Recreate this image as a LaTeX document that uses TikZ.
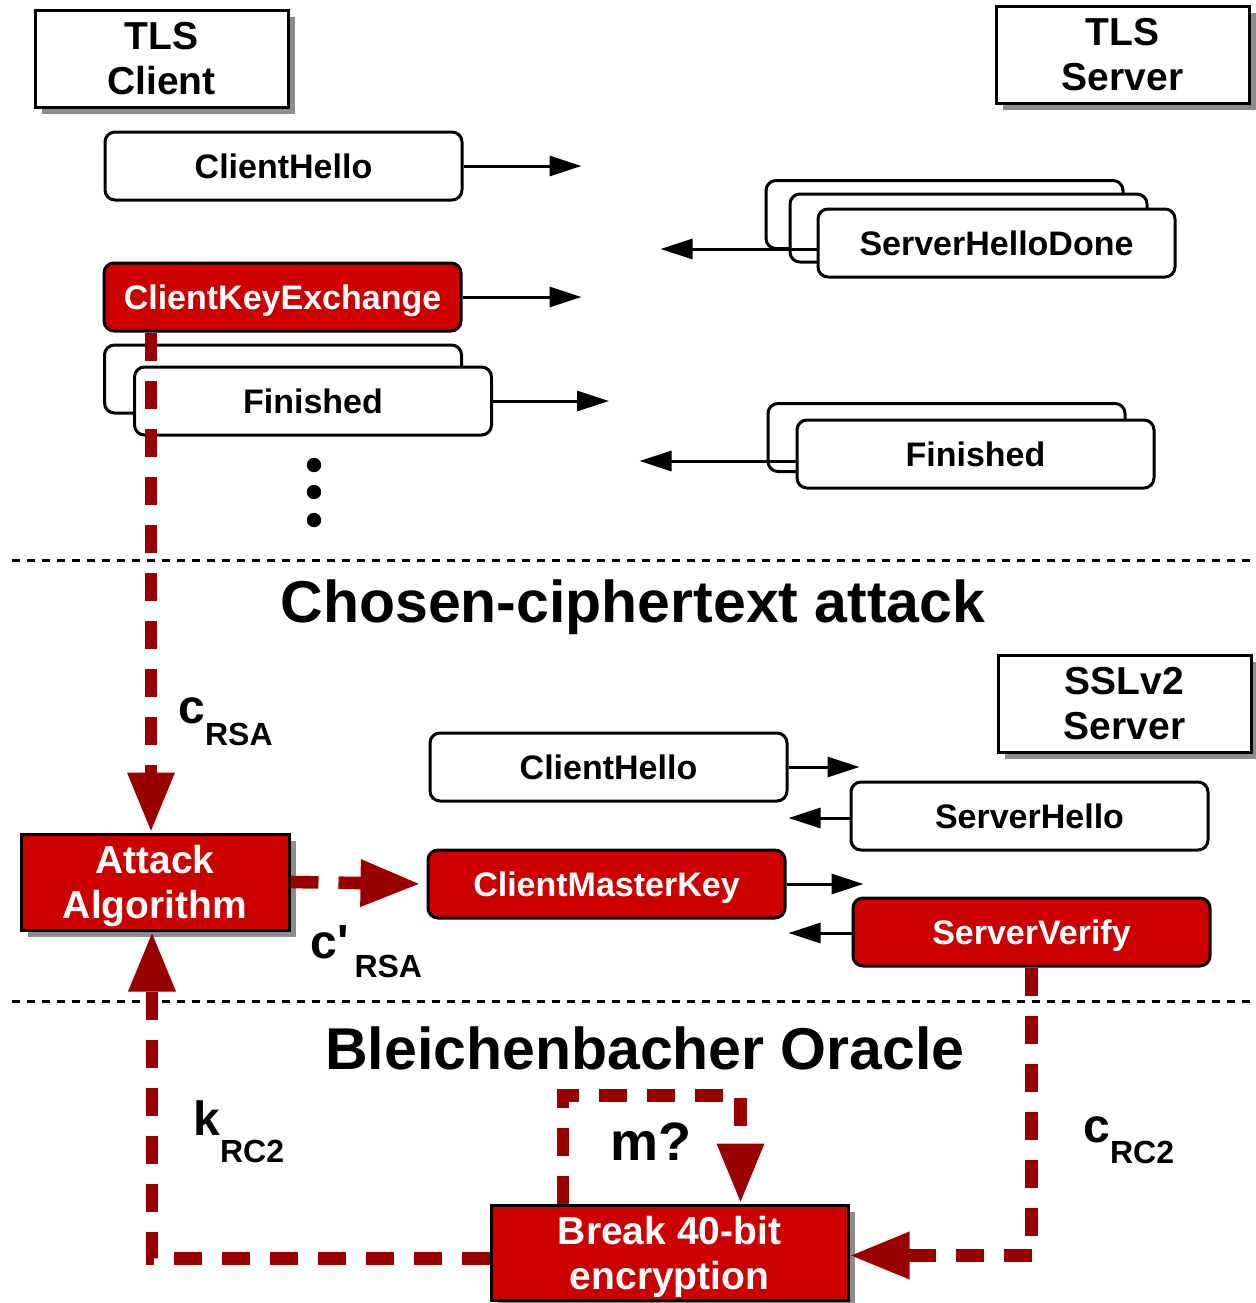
\documentclass[tikz,border=0pt]{standalone}
\usepackage{fontspec}
\setmainfont{Liberation Sans}
\usetikzlibrary{arrows.meta,calc,shadows}

\definecolor{tlsred}{HTML}{CC0000}
\definecolor{oraclered}{HTML}{990000}
\definecolor{shadowgray}{HTML}{8C8C8C}

\newcommand{\subtag}[3]{{\bfseries\fontsize{24}{24}\selectfont #1}\raisebox{#3}{\bfseries\fontsize{16}{16}\selectfont #2}}

\tikzset{
  msg/.style={draw, line width=1.5pt, rounded corners=5pt, fill=white,
    minimum width=178.5pt, minimum height=34pt, inner sep=0pt,
    text height=12.2pt, text depth=0pt,
    font=\fontsize{17}{20}\selectfont\bfseries},
  hotmsg/.style={msg, fill=tlsred, text=white},
  party/.style={draw, line width=1.5pt, fill=white, minimum width=126.5pt,
    minimum height=48.5pt, inner sep=0pt, align=center,
    font=\fontsize{19.5}{22.5}\selectfont\bfseries,
    drop shadow={shadow xshift=3.5pt, shadow yshift=-3.5pt, fill=shadowgray, opacity=1}},
  attackbox/.style={party, fill=tlsred, text=white, text depth=0pt,
    minimum width=134pt, minimum height=48pt},
  send/.style={line width=1.5pt, -{Triangle[length=16pt,width=10pt]}},
  leak/.style={draw=oraclered, line width=6.3pt, dash pattern=on 14pt off 10pt},
  bigtip/.style={-{Triangle[length=30pt,width=22pt]}},
  divider/.style={line width=1.5pt, dash pattern=on 4pt off 3.5pt},
  heading/.style={font=\fontsize{29.5}{32}\selectfont\bfseries},
  tag/.style={anchor=base west, inner sep=0pt}
}

\begin{document}
\begin{tikzpicture}[x=0.5pt, y=-0.5pt]
  \useasboundingbox (0,0) rectangle (1255,1303);

  % TLS handshake
  \node[party] (client) at (161.5,58.5) {TLS\\Client};
  \node[party] (server) at (1122.5,54.5) {TLS\\Server};

  \node[msg] (chello) at (283.5,166) {ClientHello};
  \foreach \x/\y in {944.5/214.5, 968.5/228}
    \node[msg] at (\x,\y) {};
  \node[msg] (shdone) at (996.5,243) {ServerHelloDone};
  \node[hotmsg] (ckex) at (282.5,297) {ClientKeyExchange};
  \node[msg] at (283,379) {};
  \node[msg] (cfin) at (313,401) {Finished};
  \node[msg] at (946.5,437.5) {};
  \node[msg] (sfin) at (975.5,454) {Finished};

  \draw[send] (chello.east) -- ++(118,0);
  \draw[send] ([yshift=-3pt]shdone.west) -- ++(-156,0);
  \draw[send] (ckex.east) -- ++(119,0);
  \draw[send] (cfin.east) -- ++(116,0);
  \draw[send] ([yshift=-3.5pt]sfin.west) -- ++(-156,0);

  \foreach \y in {465,492,520}
    \fill (314,\y) circle [radius=3.6pt];

  \draw[divider] (12,560) -- (1252,560);
  \node[heading] (cca) at (633,607) {Chosen-ciphertext attack};

  % SSLv2 side
  \node[party] (sslv2) at (1124.5,703.5) {SSLv2\\Server};
  \node[msg] (chello2) at (608.5,767) {ClientHello};
  \node[msg] (shello) at (1029.5,816) {ServerHello};
  \node[hotmsg] (cmkey) at (606.5,884) {ClientMasterKey};
  \node[hotmsg] (sverify) at (1031.5,932) {ServerVerify};

  \draw[send] (chello2.east) -- ++(71,0);
  \draw[send] ([yshift=-1pt]shello.west) -- ++(-61,0);
  \draw[send] (cmkey.east) -- ++(77,0);
  \draw[send] ([yshift=-0.5pt]sverify.west) -- ++(-63,0);

  \node[attackbox] (attack) at (155,882) {Attack\\Algorithm};

  \draw[divider] (12,1001) -- (1252,1001);
  \node[heading] (oracle) at (645,1048) {Bleichenbacher Oracle};

  \node[attackbox, minimum width=178.5pt, minimum height=47.5pt] (brk) at (669.5,1252.5) {Break 40-bit\\encryption};

  % labels
  \node[tag] (crsa) at (178,723) {\subtag{c}{RSA}{-11pt}};
  \node[tag] (cprsa) at (310,958) {\subtag{c\textquotesingle\hspace{3pt}}{RSA}{-9.5pt}};
  \node[tag] (krc) at (193,1135) {\subtag{k}{RC2}{-13.5pt}};
  \node[tag] (crc) at (1083,1142) {\subtag{c}{RC2}{-10.5pt}};
  \node[tag, font=\fontsize{27}{27}\selectfont\bfseries] (mq) at (610,1160) {m?};

  % attack flow
  \draw[leak, bigtip] ([xshift=-2pt]ckex.south -| attack.north) -- ([xshift=-2pt]attack.north);
  \draw[leak, bigtip, shorten >=3pt] (attack.east) -- (cmkey.west);
  \draw[leak, bigtip] ([yshift=-3pt]brk.west) -| ([xshift=-1.5pt]attack.south);
  \draw[leak, bigtip] (sverify.south) |- ([yshift=-1.5pt]brk.east);
  \draw[leak, bigtip] ($(brk.north)+(-106.5,0)$) -- ++(0,-108) -| ($(brk.north)+(71,0)$);
\end{tikzpicture}
\end{document}
